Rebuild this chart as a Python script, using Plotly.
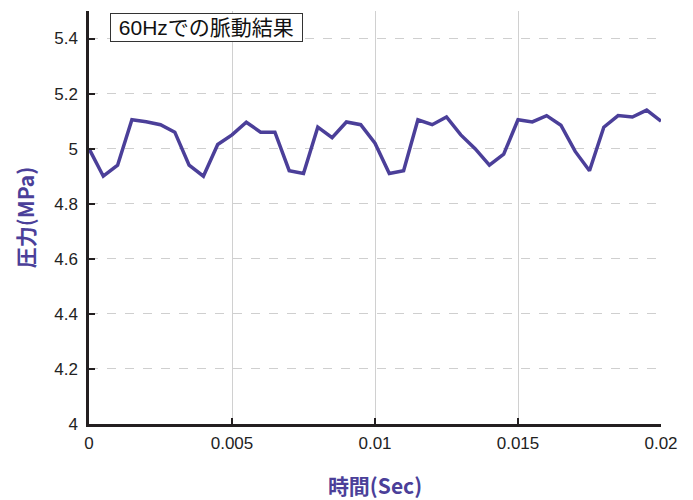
import plotly.graph_objects as go

time_s = [0.0000, 0.0005, 0.0010, 0.0015, 0.0020, 0.0025, 0.0030, 0.0035, 0.0040, 0.0045,
          0.0050, 0.0055, 0.0060, 0.0065, 0.0070, 0.0075, 0.0080, 0.0085, 0.0090, 0.0095,
          0.0100, 0.0105, 0.0110, 0.0115, 0.0120, 0.0125, 0.0130, 0.0135, 0.0140, 0.0145,
          0.0150, 0.0155, 0.0160, 0.0165, 0.0170, 0.0175, 0.0180, 0.0185, 0.0190, 0.0195,
          0.0200]
pressure_mpa = [5.00, 4.90, 4.94, 5.105, 5.098, 5.087, 5.06, 4.94, 4.90, 5.015,
                5.05, 5.096, 5.06, 5.06, 4.92, 4.91, 5.078, 5.04, 5.097, 5.087,
                5.02, 4.91, 4.92, 5.105, 5.087, 5.115, 5.05, 5.00, 4.94, 4.98,
                5.105, 5.097, 5.12, 5.085, 4.99, 4.92, 5.078, 5.12, 5.115, 5.14,
                5.10]

x_tickvals = [0, 0.005, 0.01, 0.015, 0.02]
x_ticktext = ["0", "0.005", "0.01", "0.015", "0.02"]
y_tickvals = [4, 4.2, 4.4, 4.6, 4.8, 5, 5.2, 5.4]
y_ticktext = ["4", "4.2", "4.4", "4.6", "4.8", "5", "5.2", "5.4"]

legend_text = "60Hzでの脈動結果"
x_title = "時間(Sec)"
y_title = "圧力(MPa)"

FONT = "Liberation Sans, Noto Sans CJK JP, sans-serif"
JP_FONT = "Noto Sans CJK JP, sans-serif"
LINE_COLOR = "#4b3f99"
TITLE_COLOR = "#4b3f99"

fig = go.Figure()
fig.add_trace(go.Scatter(
    x=time_s, y=pressure_mpa, mode="lines",
    line=dict(color=LINE_COLOR, width=3.5),
    showlegend=False,
))

fig.update_layout(
    width=685, height=492,
    margin=dict(l=81, r=32, t=3, b=76),
    paper_bgcolor="white", plot_bgcolor="white",
    font=dict(family=FONT, size=17, color="#222222"),
    xaxis=dict(
        range=[0, 0.02], tickvals=x_tickvals, ticktext=x_ticktext,
        showgrid=True, gridcolor="#d0d0d0", gridwidth=1,
        showline=True, linecolor="#231f20", linewidth=2.5,
        ticks="inside", ticklen=6, tickwidth=2, tickcolor="#231f20",
        zeroline=False, ticklabelstandoff=2,
        tickfont=dict(family=FONT, size=17, color="#222222"),
        title=dict(text=x_title, standoff=28,
                   font=dict(family=JP_FONT, size=21, color=TITLE_COLOR, weight="bold")),
    ),
    yaxis=dict(
        range=[4, 5.5], tickvals=y_tickvals, ticktext=y_ticktext,
        showgrid=True, gridcolor="#cfcfcf", gridwidth=1.2, griddash="dash",
        showline=True, linecolor="#231f20", linewidth=2.5,
        ticks="inside", ticklen=6, tickwidth=2, tickcolor="#231f20",
        zeroline=False, ticklabelstandoff=5,
        tickfont=dict(family=FONT, size=17, color="#222222"),
        title=dict(text=y_title, standoff=14,
                   font=dict(family=JP_FONT, size=21, color=TITLE_COLOR, weight="bold")),
    ),
    annotations=[dict(
        text="\u00a0" + legend_text + "\u00a0", xref="paper", yref="paper",
        x=0.037, y=0.995, xanchor="left", yanchor="top",
        showarrow=False,
        font=dict(family=FONT, size=21, color="#111111"),
        bgcolor="white", bordercolor="#333333", borderwidth=1, borderpad=2,
    )],
)

fig.write_html("out.html")
